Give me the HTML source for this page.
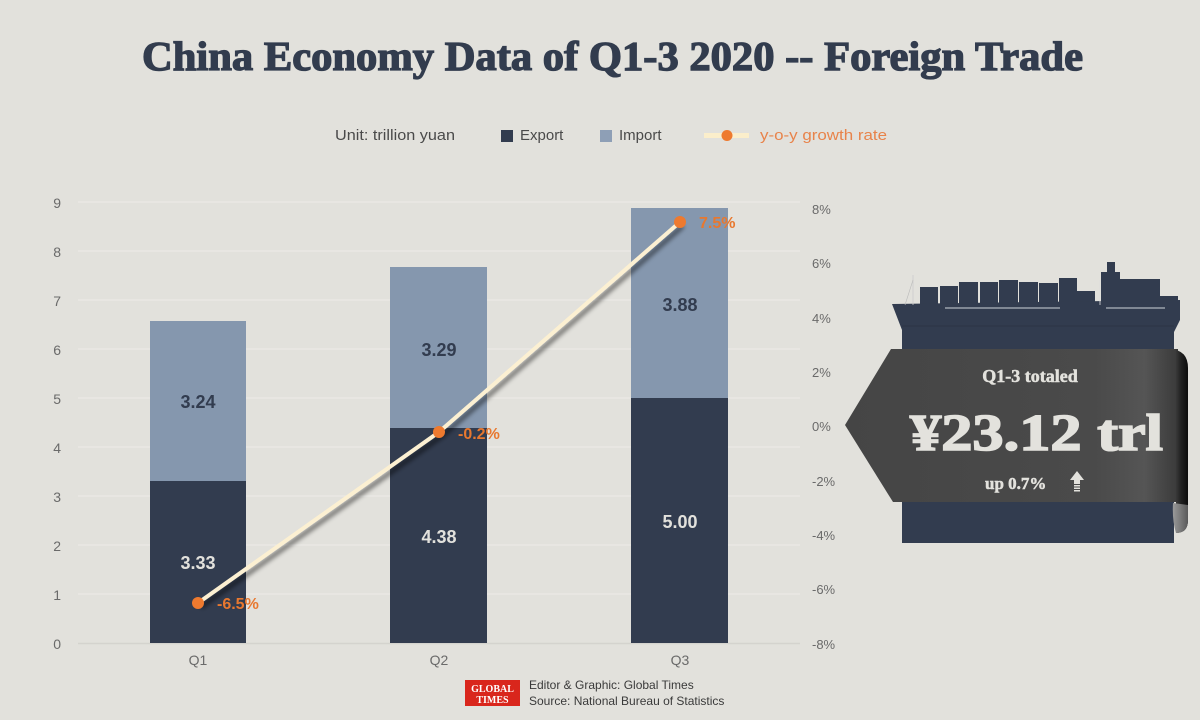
<!DOCTYPE html>
<html><head><meta charset="utf-8"><style>
html,body{margin:0;padding:0;background:#e2e1dc;}
svg{display:block;}
</style></head><body>
<svg width="1200" height="720" viewBox="0 0 1200 720" xmlns="http://www.w3.org/2000/svg">
<defs>
<filter id="sh" x="-20%" y="-20%" width="140%" height="140%">
<feGaussianBlur in="SourceAlpha" stdDeviation="2.5"/>
<feOffset dx="3" dy="4" result="o"/>
<feComponentTransfer><feFuncA type="linear" slope="0.55"/></feComponentTransfer>
<feMerge><feMergeNode/><feMergeNode in="SourceGraphic"/></feMerge>
</filter>
<linearGradient id="bg" x1="0" x2="1" y1="0" y2="0">
<stop offset="0" stop-color="#454545"/>
<stop offset="0.75" stop-color="#4a4a4a"/>
<stop offset="0.9" stop-color="#555"/>
<stop offset="1" stop-color="#3a3a3a"/>
</linearGradient>
<linearGradient id="curl" x1="0" x2="1" y1="0" y2="0">
<stop offset="0" stop-color="#555"/>
<stop offset="0.6" stop-color="#222"/>
<stop offset="1" stop-color="#0c0c0c"/>
</linearGradient>
<linearGradient id="curl2" x1="0" x2="1" y1="0" y2="0">
<stop offset="0" stop-color="#9a9a9a"/>
<stop offset="1" stop-color="#5a5a5a"/>
</linearGradient>
</defs>
<rect width="1200" height="720" fill="#e2e1dc"/>

<!-- Title -->
<text x="142" y="70" textLength="941" lengthAdjust="spacingAndGlyphs" font-family="Liberation Serif, serif" font-weight="bold" font-size="41" fill="#323c4e" stroke="#323c4e" stroke-width="1.3">China Economy Data of Q1-3 2020 -- Foreign Trade</text>

<!-- Legend -->
<g font-family="Liberation Sans, sans-serif" font-size="15">
<text x="335" y="140" fill="#4a4a4a" textLength="120" lengthAdjust="spacingAndGlyphs">Unit: trillion yuan</text>
<rect x="501" y="130" width="12" height="12" fill="#323c4f"/>
<text x="520" y="140" fill="#4a4a4a">Export</text>
<rect x="600" y="130" width="12" height="12" fill="#8e9fb6"/>
<text x="619" y="140" fill="#4a4a4a">Import</text>
<rect x="704" y="133" width="45" height="5" fill="#fbeecb"/>
<circle cx="727" cy="135.5" r="5.5" fill="#ee7a2f"/>
<text x="760" y="140" fill="#e8834a" textLength="127" lengthAdjust="spacingAndGlyphs">y-o-y growth rate</text>
</g>

<!-- Gridlines -->
<g stroke="#ebeae6" stroke-width="1.2">
<line x1="78" x2="800" y1="202" y2="202"/>
<line x1="78" x2="800" y1="251" y2="251"/>
<line x1="78" x2="800" y1="300" y2="300"/>
<line x1="78" x2="800" y1="349" y2="349"/>
<line x1="78" x2="800" y1="398" y2="398"/>
<line x1="78" x2="800" y1="447" y2="447"/>
<line x1="78" x2="800" y1="496" y2="496"/>
<line x1="78" x2="800" y1="545" y2="545"/>
<line x1="78" x2="800" y1="594" y2="594"/>
</g>
<line x1="78" x2="800" y1="643.5" y2="643.5" stroke="#d4d3ce" stroke-width="1.5"/>

<!-- Left axis labels -->
<g font-family="Liberation Sans, sans-serif" font-size="14" fill="#6a6a6a" text-anchor="end">
<text x="61" y="208">9</text>
<text x="61" y="257">8</text>
<text x="61" y="306">7</text>
<text x="61" y="355">6</text>
<text x="61" y="404">5</text>
<text x="61" y="453">4</text>
<text x="61" y="502">3</text>
<text x="61" y="551">2</text>
<text x="61" y="600">1</text>
<text x="61" y="649">0</text>
</g>
<!-- Right axis labels -->
<g font-family="Liberation Sans, sans-serif" font-size="13" fill="#6a6a6a">
<text x="812" y="214">8%</text>
<text x="812" y="268">6%</text>
<text x="812" y="323">4%</text>
<text x="812" y="377">2%</text>
<text x="812" y="431">0%</text>
<text x="812" y="486">-2%</text>
<text x="812" y="540">-4%</text>
<text x="812" y="594">-6%</text>
<text x="812" y="649">-8%</text>
</g>

<!-- Bars -->
<rect x="150" y="321" width="96" height="160" fill="#8597ae"/>
<rect x="150" y="481" width="96" height="162" fill="#323c4f"/>
<rect x="390" y="267" width="97" height="161" fill="#8597ae"/>
<rect x="390" y="428" width="97" height="215" fill="#323c4f"/>
<rect x="631" y="208" width="97" height="190" fill="#8597ae"/>
<rect x="631" y="398" width="97" height="245" fill="#323c4f"/>

<g font-family="Liberation Sans, sans-serif" font-size="18" font-weight="bold" text-anchor="middle">
<text x="198" y="408" fill="#323c4f">3.24</text>
<text x="198" y="569" fill="#e2e1dc">3.33</text>
<text x="439" y="356" fill="#323c4f">3.29</text>
<text x="439" y="543" fill="#e2e1dc">4.38</text>
<text x="680" y="311" fill="#323c4f">3.88</text>
<text x="680" y="528" fill="#e2e1dc">5.00</text>
</g>

<!-- X labels -->
<g font-family="Liberation Sans, sans-serif" font-size="14" fill="#6a6a6a" text-anchor="middle">
<text x="198" y="665">Q1</text>
<text x="439" y="665">Q2</text>
<text x="680" y="665">Q3</text>
</g>

<!-- Line -->
<polyline points="198,603 439,432 680,222" fill="none" stroke="#fcf0d2" stroke-width="4" filter="url(#sh)"/>
<circle cx="198" cy="603" r="6" fill="#ee7a2f"/>
<circle cx="439" cy="432" r="6" fill="#ee7a2f"/>
<circle cx="680" cy="222" r="6" fill="#ee7a2f"/>
<g font-family="Liberation Sans, sans-serif" font-size="16" font-weight="bold" fill="#e8782f">
<text x="217" y="609">-6.5%</text>
<text x="458" y="439">-0.2%</text>
<text x="699" y="228">7.5%</text>
</g>

<!-- Ship -->
<g fill="#323c4f">
<rect x="920" y="287" width="18" height="20"/>
<rect x="940" y="286" width="18" height="21"/>
<rect x="959" y="282" width="19" height="25"/>
<rect x="980" y="282" width="18" height="25"/>
<rect x="999" y="280" width="19" height="27"/>
<rect x="1019" y="282" width="19" height="25"/>
<rect x="1039" y="283" width="19" height="24"/>
<rect x="1059" y="278" width="18" height="29"/>
<rect x="1077" y="291" width="18" height="16"/>
<rect x="1101" y="272" width="19" height="35"/>
<rect x="1107" y="262" width="8" height="12"/>
<rect x="1120" y="279" width="40" height="28"/>
<rect x="1160" y="296" width="18" height="11"/>
<polygon points="892,304 1180,300 1180,320 1174,332 1174,543 902,543 902,330"/>
</g>
<line x1="913" y1="275" x2="913" y2="305" stroke="#ccc" stroke-width="0.8"/>
<line x1="905" y1="305" x2="913" y2="280" stroke="#bbb" stroke-width="0.6"/>
<line x1="1100" y1="280" x2="1100" y2="305" stroke="#ddd" stroke-width="0.8"/>
<g stroke="#cfd3da" stroke-width="1">
<line x1="945" y1="308" x2="1060" y2="308"/>
<line x1="1106" y1="308" x2="1165" y2="308"/>
</g>
<line x1="902" y1="326" x2="1174" y2="326" stroke="#2c3546" stroke-width="1"/>

<!-- Banner -->
<polygon points="845,425 891,349 1178,349 1178,502 893,502" fill="url(#bg)"/>
<path d="M1170,349 Q1188,350 1188,368 L1188,520 Q1188,533 1176,533 L1176,349 Z" fill="url(#curl)"/>
<path d="M1173,503 L1188,505 L1188,520 Q1188,533 1176,533 Q1172,520 1173,503 Z" fill="url(#curl2)"/>
<text x="1030" y="382" text-anchor="middle" font-family="Liberation Serif, serif" font-weight="bold" font-size="18" fill="#e3e2dd" stroke="#e3e2dd" stroke-width="0.5">Q1-3 totaled</text>
<text x="910" y="450" textLength="253" lengthAdjust="spacingAndGlyphs" font-family="Liberation Serif, serif" font-weight="bold" font-size="52" fill="#e3e2dd" stroke="#e3e2dd" stroke-width="1.6">¥23.12 trl</text>
<text x="985" y="489" font-family="Liberation Serif, serif" font-weight="bold" font-size="17" fill="#e3e2dd" stroke="#e3e2dd" stroke-width="0.5">up 0.7%</text>
<g fill="#e3e2dd">
<polygon points="1077,471 1084,480 1080,480 1080,484 1074,484 1074,480 1070,480"/>
<rect x="1074" y="485" width="6" height="1.5"/>
<rect x="1074" y="487.5" width="6" height="1.5"/>
<rect x="1074" y="490" width="6" height="1.5"/>
</g>

<!-- Footer -->
<rect x="465" y="680" width="55" height="26" fill="#d9261c"/>
<text x="492.5" y="692" text-anchor="middle" font-family="Liberation Serif, serif" font-weight="bold" font-size="10" fill="#fff">GLOBAL</text>
<text x="492.5" y="703" text-anchor="middle" font-family="Liberation Serif, serif" font-weight="bold" font-size="10" fill="#fff">TIMES</text>
<g font-family="Liberation Sans, sans-serif" font-size="12" fill="#3a3a3a">
<text x="529" y="689">Editor &amp; Graphic: Global Times</text>
<text x="529" y="705">Source: National Bureau of Statistics</text>
</g>
</svg>
</body></html>
